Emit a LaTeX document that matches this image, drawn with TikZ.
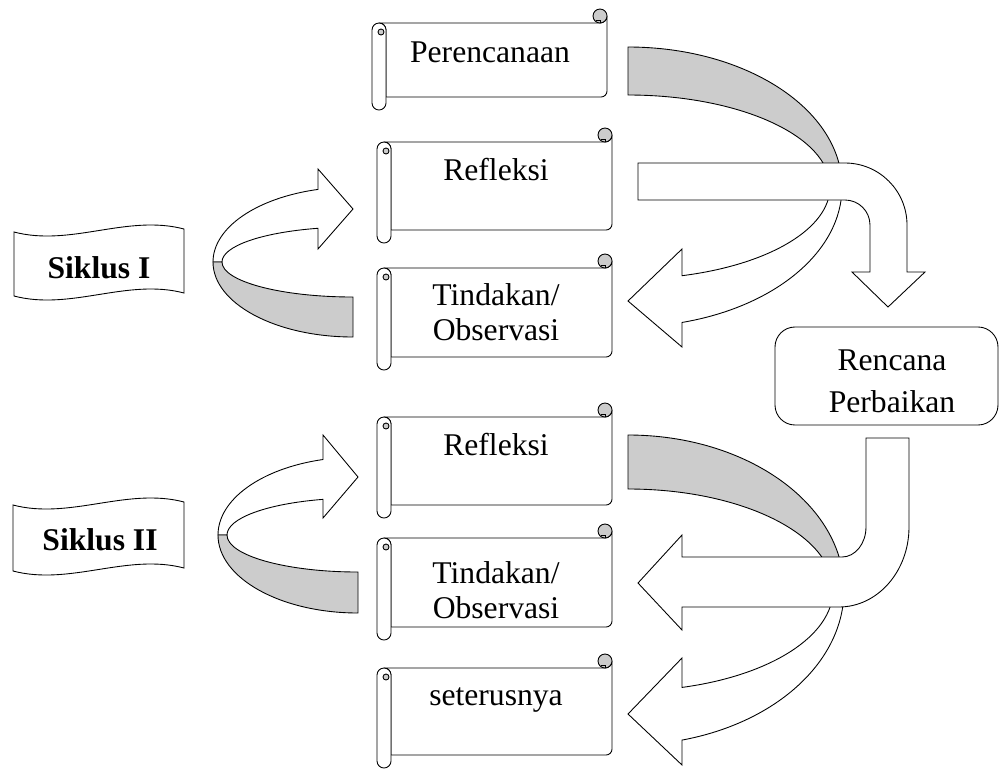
\documentclass[tikz,border=0pt]{standalone}
\usepackage{fontspec}
\setmainfont{Liberation Serif}

\newcommand{\scrollbox}[4]{%
	\filldraw[fill=white] (#1+7,#2) -- (#3-7,#2) arc[start angle=90, end angle=0, radius=7] -- (#3,#4-6) arc[start angle=0, end angle=90, radius=6] -- (#1+14,#4) -- (#1+14,#2+7) arc[start angle=0, end angle=-90, radius=7] -- cycle;
	\filldraw[fill=white] (#1,#2+7) -- (#1,#4+6) arc[start angle=180, end angle=0, radius=7] -- (#1+14,#2+7) arc[start angle=0, end angle=-180, radius=7] -- cycle;
	\filldraw[fill=black!20] (#1+9,#2+9) circle (3);
	\filldraw[fill=black!20] (#3-7,#2-7) circle (7);
	\draw (#3-7,#2-3) -- (#3-7,#2);
	\draw (#3-11,#2-3) -- (#3-7,#2-3);
}

\begin{document}
\begin{tikzpicture}[x=0.02cm, y=-0.02cm, line width=0.5pt,
		block/.style={draw, fill=white},
		band/.style={draw, fill=black!20},
		boxtext/.style={anchor=base, inner sep=0pt, font=\fontsize{18}{22}\selectfont},
		siklustext/.style={anchor=base, inner sep=0pt, font=\fontsize{18}{22}\selectfont\bfseries}]
		\useasboundingbox (0,0) rectangle (1001,768);

		\scrollbox{372}{23}{607}{97}
		\scrollbox{377}{142}{612}{230}
		\scrollbox{377}{268}{612}{357}
		\scrollbox{377}{417}{612}{505}
		\scrollbox{377}{538}{612}{627}
		\scrollbox{377}{668}{612}{755}

		\draw[rounded corners=0.4cm] (775,327) rectangle (998,425);

		\draw[block] (14,232) .. controls (71,247) and (127,214) .. (184,229) -- (184,293) .. controls (127,278) and (71,311) .. (14,296) -- cycle;
		\draw[block] (13,505) .. controls (70,520) and (127,487) .. (184,502) -- (184,568) .. controls (127,553) and (70,586) .. (13,571) -- cycle;

		\draw[band] (628,47) arc[start angle=-90, end angle=0, x radius=214, y radius=140] -- (830,187) arc[start angle=0, end angle=-90, x radius=202, y radius=92] -- cycle;
		\draw[block] (842,187) arc[start angle=0, end angle=75.38, x radius=214, y radius=140] -- (682,347) -- (628,301) -- (682,249) -- (682,275.7) arc[start angle=74.49, end angle=0, x radius=202, y radius=92] -- cycle;
		\draw[block] (638,163) -- (845,163) arc[start angle=-90, end angle=0, radius=62] -- (907,272) -- (925,272) -- (888,307) -- (852,272) -- (870,272) -- (870,225) arc[start angle=0, end angle=-90, radius=25] -- (638,200) -- cycle;

		\draw[block] (318,189.4) arc[start angle=-104.48, end angle=-180, x radius=140, y radius=75] -- (222,262) arc[start angle=-180, end angle=-105.5, x radius=131, y radius=35] -- (318,249) -- (353,209) -- (318,169) -- cycle;
		\draw[band] (213,262) arc[start angle=180, end angle=90, x radius=140, y radius=75] -- (353,297) arc[start angle=90, end angle=180, x radius=131, y radius=35] -- cycle;

		\draw[block] (323,459.5) arc[start angle=-104.48, end angle=-180, x radius=140, y radius=78] -- (227,535) arc[start angle=-180, end angle=-105.5, x radius=131, y radius=37] -- (323,518) -- (358,477) -- (323,435) -- cycle;
		\draw[band] (218,535) arc[start angle=180, end angle=90, x radius=140, y radius=78] -- (358,572) arc[start angle=90, end angle=180, x radius=131, y radius=37] -- cycle;

		\draw[band] (628,435) arc[start angle=-90, end angle=0, x radius=216, y radius=155] -- (833,590) arc[start angle=0, end angle=-90, x radius=205, y radius=101] -- cycle;
		\draw[block] (844,590) arc[start angle=0, end angle=75.52, x radius=216, y radius=155] -- (682,765) -- (628,714) -- (682,658) -- (682,687.4) arc[start angle=74.73, end angle=0, x radius=205, y radius=101] -- cycle;
		\draw[block] (866,438) -- (909,438) -- (909,527) arc[start angle=0, end angle=90, x radius=70, y radius=80] -- (682,607) -- (682,630) -- (638,583) -- (682,535) -- (682,557) -- (842,557) arc[start angle=90, end angle=0, x radius=24, y radius=30] -- cycle;

		\node[boxtext] (plan) at (490,62) {Perencanaan};
		\node[boxtext] (refl1) at (496,180) {Refleksi};
		\node[boxtext] (act1) at (496,305) {Tindakan/};
		\node[boxtext] (obs1) at (496,340) {Observasi};
		\node[boxtext] (refl2) at (496,455) {Refleksi};
		\node[boxtext] (act2) at (496,583) {Tindakan/};
		\node[boxtext] (obs2) at (496,618) {Observasi};
		\node[boxtext] (next) at (496,705) {seterusnya};
		\node[boxtext] (rencana) at (892,370) {Rencana};
		\node[boxtext] (perbaikan) at (892,412) {Perbaikan};
		\node[siklustext] (siklus1) at (99,278) {Siklus I};
		\node[siklustext] (siklus2) at (100,550) {Siklus II};
	\end{tikzpicture}
\end{document}
